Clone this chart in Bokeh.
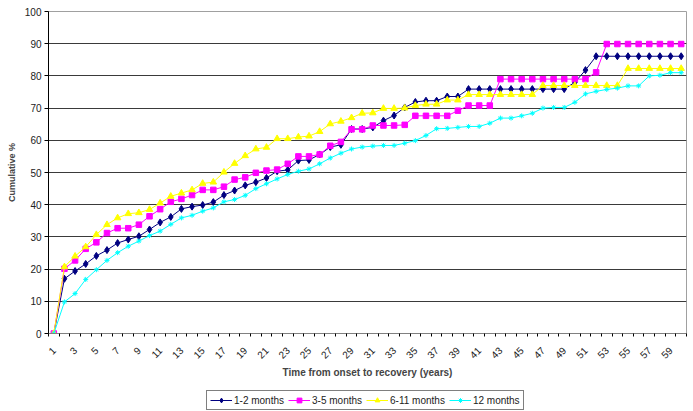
from bokeh.plotting import figure
from bokeh.models import Range1d, FixedTicker, Legend, LegendItem
from bokeh.layouts import column
from bokeh.embed import file_html
from bokeh.resources import INLINE

years = list(range(1, 61))
tick_labels = list(range(1, 60, 2))
y_ticks = list(range(0, 101, 10))

s_1_2 = [0, 17.0, 19.4, 21.6, 24.1, 25.9, 28.1, 29.2, 30.2, 32.3,
         34.5, 36.2, 38.7, 39.4, 39.9, 40.8, 43.0, 44.4, 46.0, 47.0,
         48.3, 50.4, 50.8, 53.7, 53.9, 55.6, 57.9, 58.6, 63.5, 63.5,
         64.0, 66.1, 67.7, 70.2, 71.9, 72.3, 72.3, 73.6, 73.6, 75.9,
         75.9, 75.9, 75.9, 75.9, 75.9, 75.9, 75.9, 75.9, 75.9, 78.0,
         81.8, 86.1, 86.1, 86.1, 86.1, 86.1, 86.1, 86.1, 86.1, 86.1]
s_3_5 = [0, 20.1, 22.7, 26.3, 28.3, 31.2, 32.7, 32.7, 33.8, 36.4,
         38.6, 40.9, 41.8, 43.0, 44.6, 44.6, 45.6, 47.8, 48.5, 49.9,
         50.6, 50.9, 52.7, 55.0, 55.0, 55.6, 58.3, 59.5, 63.4, 63.4,
         64.6, 64.6, 64.6, 64.8, 67.6, 67.6, 67.6, 67.6, 69.2, 70.8,
         70.8, 70.8, 79.0, 79.0, 79.0, 79.0, 79.0, 79.0, 79.0, 79.0,
         79.0, 81.1, 89.9, 89.9, 89.9, 89.9, 89.9, 89.9, 89.9, 89.9]
s_6_11 = [0, 20.7, 24.0, 26.9, 30.7, 33.8, 35.9, 37.2, 37.5, 38.5,
          40.5, 42.6, 43.6, 44.6, 46.6, 47.0, 50.1, 52.8, 55.2, 57.3,
          57.8, 60.5, 60.5, 61.0, 61.3, 62.7, 65.1, 65.9, 67.0, 68.4,
          68.5, 69.9, 69.9, 70.0, 70.8, 71.2, 71.2, 72.5, 72.5, 74.2,
          74.2, 74.2, 74.2, 74.2, 74.2, 74.2, 77.0, 77.0, 77.0, 77.0,
          77.0, 77.0, 77.0, 77.0, 82.3, 82.3, 82.3, 82.3, 82.3, 82.3]
s_12 = [0, 9.8, 12.4, 16.8, 19.8, 22.7, 25.1, 27.1, 28.7, 30.4,
        31.8, 33.9, 35.9, 36.7, 38.0, 39.0, 40.9, 41.6, 42.9, 45.0,
        46.5, 48.0, 49.4, 50.4, 51.1, 52.7, 54.5, 56.0, 57.3, 57.9,
        58.2, 58.4, 58.4, 59.1, 59.9, 61.5, 63.6, 63.7, 64.0, 64.3,
        64.3, 65.3, 66.9, 66.9, 67.6, 68.4, 70.0, 70.2, 70.2, 71.8,
        74.4, 75.2, 75.8, 76.2, 76.9, 76.9, 80.0, 80.2, 81.0, 81.0]

series_names = ["1-2 months", "3-5 months", "6-11 months", "12 months"]
series_vals = [s_1_2, s_3_5, s_6_11, s_12]
colors = ["#000080", "#FF00FF", "#FFFF00", "#00FFFF"]
markers = ["diamond", "square", "triangle", "asterisk"]
sizes = [7, 5.5, 6.5, 5]

p = figure(width=693, height=385, output_backend="svg", toolbar_location=None,
           x_range=Range1d(0.5, 60.5), y_range=Range1d(0, 100),
           min_border_left=48, min_border_right=7, min_border_top=11,
           min_border_bottom=52)
p.background_fill_color = "white"
p.border_fill_color = "white"
p.outline_line_color = "#a0a0a0"
p.outline_line_width = 1

# grid
p.xgrid.visible = False
p.ygrid.ticker = FixedTicker(ticks=y_ticks[1:-1])
p.ygrid.grid_line_color = "#3a3a3a"
p.ygrid.grid_line_width = 1

# y axis
p.yaxis.ticker = FixedTicker(ticks=y_ticks)
p.yaxis.axis_label = "Cumulative %"
p.yaxis.axis_label_text_font = "Liberation Sans"
p.yaxis.axis_label_text_font_style = "bold"
p.yaxis.axis_label_text_font_size = "9px"
p.yaxis.axis_label_standoff = 5
p.yaxis.major_label_text_font = "Liberation Sans"
p.yaxis.major_label_text_font_size = "10px"
p.yaxis.major_label_text_color = "#222222"
p.yaxis.major_label_standoff = 3
p.yaxis.major_tick_out = 4
p.yaxis.major_tick_in = 0
p.yaxis.minor_tick_out = 0
p.yaxis.minor_tick_in = 0
p.yaxis.axis_line_color = "#000000"
p.yaxis.major_tick_line_color = "#000000"

# x axis
p.xaxis.ticker = FixedTicker(ticks=tick_labels,
                             minor_ticks=[y + 0.5 for y in [0] + years])
p.xaxis.axis_label = "Time from onset to recovery (years)"
p.xaxis.axis_label_text_font = "Liberation Sans"
p.xaxis.axis_label_text_font_style = "bold"
p.xaxis.axis_label_text_font_size = "10px"
p.xaxis.axis_label_standoff = 2
p.xaxis.major_label_text_font = "Liberation Sans"
p.xaxis.major_label_text_font_size = "10px"
p.xaxis.major_label_text_color = "#222222"
p.xaxis.major_label_orientation = 0.785398
p.xaxis.major_label_standoff = 12
p.xaxis.major_tick_out = 0
p.xaxis.major_tick_in = 0
p.xaxis.minor_tick_out = 3
p.xaxis.minor_tick_in = 0
p.xaxis.minor_tick_line_color = "#000000"
p.xaxis.axis_line_color = "#808080"

for vals, c, m, s in zip(series_vals, colors, markers, sizes):
    p.line(years, vals, line_color=c, line_width=1)
    p.scatter(years, vals, marker=m, size=s, fill_color=c, line_color=c,
              line_width=1)

# legend in a strip below the chart (its series lie outside its view)
lg = figure(width=693, height=26, output_backend="svg", toolbar_location=None,
            x_range=Range1d(-3, -2), y_range=Range1d(-3, -2),
            x_axis_type=None, y_axis_type=None,
            min_border_left=0, min_border_right=0, min_border_top=0,
            min_border_bottom=0)
lg.grid.visible = False
lg.outline_line_color = None
lg.background_fill_color = "white"
lg.border_fill_color = "white"

items = []
for name, vals, c, m, s in zip(series_names, series_vals, colors, markers, sizes):
    r1 = lg.line(years, vals, line_color=c, line_width=1)
    r2 = lg.scatter(years, vals, marker=m, size=s, fill_color=c, line_color=c,
                    line_width=1)
    items.append(LegendItem(label=name, renderers=[r1, r2]))

legend = Legend(items=items, orientation="horizontal", location=(158, 1),
                label_text_font="Liberation Sans", label_text_font_size="10px",
                label_text_color="#222222",
                glyph_width=22, glyph_height=12, label_height=12,
                label_standoff=2, spacing=4, padding=3, margin=0,
                border_line_color="#000000", border_line_width=1,
                background_fill_color="white", background_fill_alpha=1)
lg.add_layout(legend, "center")

layout = column(p, lg, spacing=0)
open("out.html", "w").write(file_html(layout, INLINE))
